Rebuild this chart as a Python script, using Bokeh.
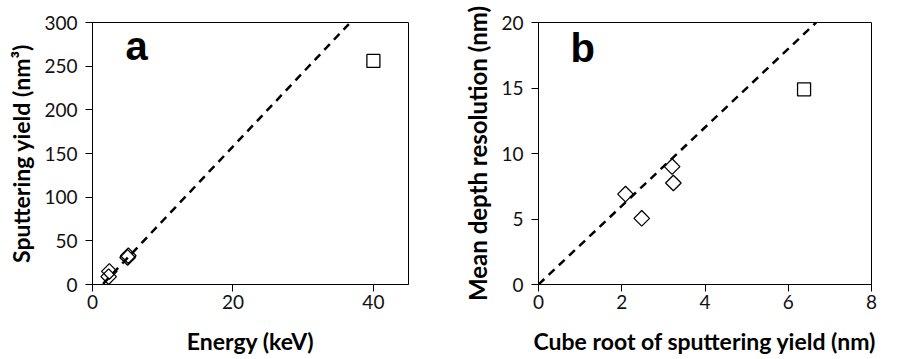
from bokeh.plotting import figure
from bokeh.models import Range1d, FixedTicker, Label
from bokeh.layouts import row
from bokeh.embed import file_html
from bokeh.resources import INLINE
import math

# Panel a: energy vs sputtering yield
a_diamond_x = [2.4, 2.3, 5.1, 5.0]
a_diamond_y = [15, 9, 33, 31]
a_square_x = [40]
a_square_y = [256]
a_fit_x = [1.5, 36.5]
a_fit_y = [0.75, 298.25]

# Panel b: cube root of sputtering yield vs mean depth resolution
b_diamond_x = [2.09, 2.48, 3.21, 3.24]
b_diamond_y = [6.9, 5.05, 9.0, 7.75]
b_square_x = [6.38]
b_square_y = [14.9]
b_fit_x = [0.0, 6.67]
b_fit_y = [0.0, 20.0]

a_xticks = [0, 20, 40]
a_yticks = [0, 50, 100, 150, 200, 250, 300]
b_xticks = [0, 2, 4, 6, 8]
b_yticks = [0, 5, 10, 15, 20]

TICK_FONT = "Lato"
LABEL_FONT = "Lato"


def style(p, xticks, yticks, xlabel, ylabel, ylabel_size):
    p.xgrid.visible = False
    p.ygrid.visible = False
    p.outline_line_color = "black"
    p.outline_line_width = 1
    p.xaxis.ticker = FixedTicker(ticks=xticks)
    p.yaxis.ticker = FixedTicker(ticks=yticks)
    for ax in (p.xaxis[0], p.yaxis[0]):
        ax.axis_line_color = "black"
        ax.axis_line_width = 1
        ax.major_tick_line_color = "black"
        ax.major_tick_in = 0
        ax.major_tick_out = 7
        ax.minor_tick_line_color = None
        ax.major_label_text_font = TICK_FONT
        ax.major_label_text_font_size = "19px"
        ax.major_label_text_color = "#111111"
        ax.axis_label_text_font = LABEL_FONT
        ax.axis_label_text_font_style = "bold"
        ax.axis_label_text_font_size = "23px"
        ax.axis_label_text_color = "black"
    p.yaxis.axis_label_text_font_size = ylabel_size
    p.xaxis.axis_label = xlabel
    p.yaxis.axis_label = ylabel
    p.xaxis.major_label_standoff = 3
    p.yaxis.major_label_standoff = 8
    p.xaxis.axis_label_standoff = 15
    p.yaxis.axis_label_standoff = 6


pa = figure(width=450, height=359, output_backend="svg", toolbar_location=None,
            x_range=Range1d(0, 45), y_range=Range1d(0, 300),
            min_border_left=92, min_border_right=42, min_border_top=22, min_border_bottom=75)
pa.frame_width = 316
pa.frame_height = 262
style(pa, a_xticks, a_yticks, "Energy (keV)", "Sputtering yield (nm³)", "23px")
pa.scatter(a_diamond_x, a_diamond_y, marker="square", angle=math.pi / 4, size=11,
           fill_color="white", fill_alpha=0, line_color="black", line_width=1.3)
pa.scatter(a_square_x, a_square_y, marker="square", size=13,
           fill_color="white", line_color="black", line_width=1.3)
pa.line(a_fit_x, a_fit_y, line_color="black", line_width=2.5, line_dash="8 6")
pa.add_layout(Label(x=4.7, y=248, text="a", text_font="Liberation Sans",
                    text_font_style="bold", text_font_size="40px", text_color="black"))

pb = figure(width=449, height=359, output_backend="svg", toolbar_location=None,
            x_range=Range1d(0, 8), y_range=Range1d(0, 20),
            min_border_left=88, min_border_right=28, min_border_top=22, min_border_bottom=75)
pb.frame_width = 333
pb.frame_height = 262
style(pb, b_xticks, b_yticks, "Cube root of sputtering yield (nm)", "Mean depth resolution (nm)", "24px")
pb.scatter(b_diamond_x, b_diamond_y, marker="square", angle=math.pi / 4, size=11,
           fill_color="white", fill_alpha=0, line_color="black", line_width=1.3)
pb.scatter(b_square_x, b_square_y, marker="square", size=13,
           fill_color="white", line_color="black", line_width=1.3)
pb.line(b_fit_x, b_fit_y, line_color="black", line_width=2.5, line_dash="8 6")
pb.add_layout(Label(x=0.77, y=16.4, text="b", text_font="Liberation Sans",
                    text_font_style="bold", text_font_size="40px", text_color="black"))

layout = row(pa, pb)
open("out.html", "w").write(file_html(layout, INLINE))
